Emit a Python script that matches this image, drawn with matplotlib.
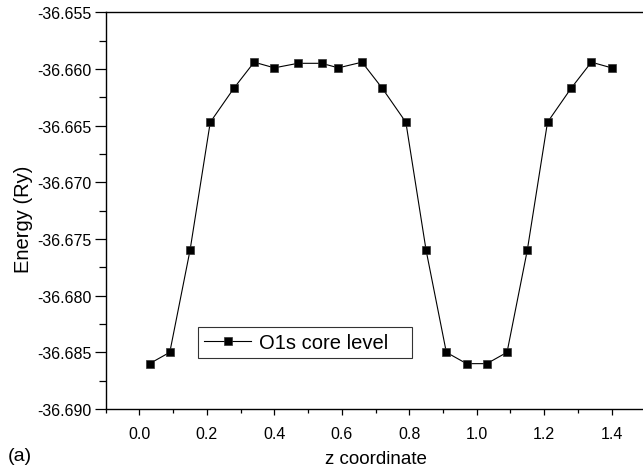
import matplotlib
matplotlib.use("Agg")
import matplotlib.pyplot as plt
from matplotlib.ticker import MultipleLocator, FormatStrFormatter

plt.rcParams['font.family'] = ['Liberation Sans', 'DejaVu Sans']
plt.rcParams['axes.unicode_minus'] = False

z = [0.03, 0.09, 0.15, 0.21, 0.28, 0.34, 0.40, 0.47, 0.54, 0.59, 0.66, 0.72,
     0.79, 0.85, 0.91, 0.97, 1.03, 1.09, 1.15, 1.21, 1.28, 1.34, 1.40]
energy = [-36.6860, -36.6850, -36.6760, -36.6647, -36.6617, -36.6594, -36.6599,
          -36.6595, -36.6595, -36.6599, -36.6594, -36.6617, -36.6647, -36.6760,
          -36.6850, -36.6860, -36.6860, -36.6850, -36.6760, -36.6647, -36.6617,
          -36.6594, -36.6599]
series_label = "O1s core level"

fig = plt.figure(figsize=(6.43, 4.77), dpi=100)
ax = fig.add_axes([0.1644, 0.1405, 0.8392, 0.8316])

ax.plot(z, energy, color='black', lw=0.8, marker='s', markersize=6,
        markerfacecolor='black', markeredgecolor='#333333', markeredgewidth=0.5,
        label=series_label)

ax.set_xlim(-0.1, 1.5)
ax.set_ylim(-36.690, -36.655)
ax.xaxis.set_major_locator(MultipleLocator(0.2))
ax.xaxis.set_minor_locator(MultipleLocator(0.1))
ax.yaxis.set_major_locator(MultipleLocator(0.005))
ax.yaxis.set_minor_locator(MultipleLocator(0.0025))
ax.xaxis.set_major_formatter(FormatStrFormatter('%.1f'))
ax.yaxis.set_major_formatter(FormatStrFormatter('%.3f'))

ax.spines['right'].set_visible(False)
for s in ['left', 'bottom', 'top']:
    ax.spines[s].set_linewidth(1.0)
ax.tick_params(axis='both', which='both', direction='out', top=False, right=False,
               width=0.9, labelsize=11.5, colors='black')
ax.tick_params(axis='y', which='major', length=8, pad=2)
ax.tick_params(axis='y', which='minor', length=5)
ax.tick_params(axis='x', which='major', length=4, pad=8)
ax.tick_params(axis='x', which='minor', length=3)

ax.set_xlabel("z coordinate", fontsize=13.5, labelpad=7)
ax.set_ylabel("Energy (Ry)", fontsize=14.5, labelpad=5)
ax.yaxis.set_label_coords(-0.135, 0.48)

leg = ax.legend(loc='upper left', bbox_to_anchor=(0.171, 0.089, 0.3966, 0.1185),
                mode='expand', fontsize=14.5,
                frameon=True, fancybox=False, edgecolor='black', handlelength=2.35,
                handletextpad=0.4, borderpad=0.3, borderaxespad=0)
leg.get_frame().set_linewidth(0.8)

fig.text(0.012, 0.042, "(a)", fontsize=14, ha='left', va='center')

fig.savefig("out.png", dpi=100)
